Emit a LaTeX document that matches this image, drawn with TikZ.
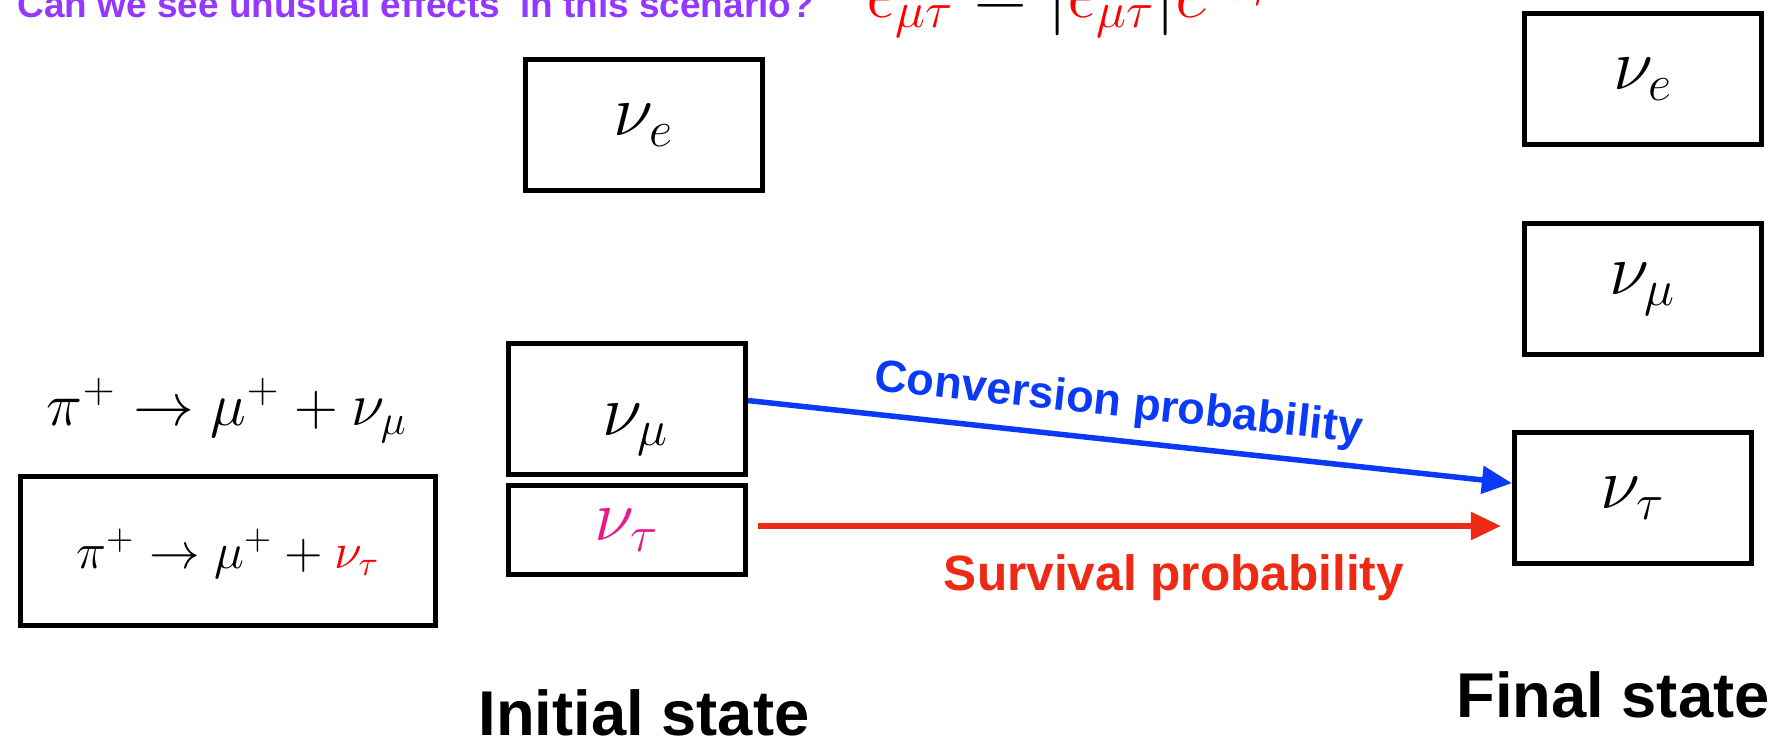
\documentclass[tikz,border=0pt]{standalone}
\usepackage{fontspec}
\setsansfont{Liberation Sans}
\usetikzlibrary{arrows.meta}
\definecolor{AskViolet}{HTML}{9437FF}
\definecolor{ConvBlue}{HTML}{0A3AF5}
\definecolor{SurvRed}{HTML}{EE2A14}
\definecolor{TauPink}{HTML}{E8198B}
\definecolor{PhaseRed}{HTML}{FF0000}

\begin{document}
\begin{tikzpicture}[x=0.01cm,y=-0.01cm,>={Triangle[length=0.3cm,width=0.27cm]},
  flavbox/.style={draw,line width=0.05cm,minimum width=2.37cm,minimum height=1.31cm,inner sep=0pt,font=\fontsize{20.5}{24}\selectfont},
  statelabel/.style={anchor=base,font=\sffamily\bfseries\fontsize{18}{22}\selectfont},
  probline/.style={line width=0.055cm,->}]
\path[use as bounding box] (0,0) rectangle (1778,742); \clip (0,0) rectangle (1778,742);
\node[anchor=base west,inner sep=0pt,text=AskViolet,font=\sffamily\bfseries\fontsize{10.5}{12}\selectfont] (ask) at (17,17){Can we see unusual effects~ in this scenario?};
\node[anchor=base west,inner sep=0pt,font=\fontsize{20}{24}\selectfont] (phase) at (866,17){$\textcolor{PhaseRed}{\epsilon_{\mu\tau}}=|\textcolor{PhaseRed}{\epsilon_{\mu\tau}}|\textcolor{PhaseRed}{e^{i\phi_{\mu\tau}}}$};
\node[flavbox] (nuei) at (644,125){$\nu_e$};
\node[flavbox] (numui) at (627,409){\raisebox{-.26cm}[0pt][0pt]{\hspace{.18cm}$\nu_\mu$}};
\node[flavbox,minimum height=0.88cm,text=TauPink] (nutaui) at (627,530){$\nu_\tau$};
\node[anchor=base,font=\fontsize{17.5}{21}\selectfont] (decay) at (227,425){$\pi^+\to\mu^++\nu_\mu$};
\node[flavbox,minimum width=4.15cm,minimum height=1.49cm,font=\fontsize{13.8}{16}\selectfont] (pibox) at (228,551){\raisebox{-.17cm}[0pt][0pt]{$\pi^+\to\mu^++\textcolor{PhaseRed}{\nu_\tau}$}};
\node[flavbox] (nuef) at (1643,79){$\nu_e$};
\node[flavbox] (numuf) at (1643,289){$\nu_\mu$};
\node[flavbox] (nutauf) at (1633,498){$\nu_\tau$};
\draw[probline,ConvBlue] (numui.4) -- (nutauf.173) node[pos=.48,sloped,above,text=ConvBlue,font=\sffamily\bfseries\fontsize{12.8}{15}\selectfont]{Conversion probability};
\draw[probline,SurvRed,shorten <=0.1cm,shorten >=0.11cm,transform canvas={yshift=0.04cm}] (nutaui.east) -- (nutaui.east -| nutauf.west);
\node[anchor=base,text=SurvRed,font=\sffamily\bfseries\fontsize{14.1}{17}\selectfont] (surv) at (1174,590){Survival probability};
\node[statelabel] (init) at (644,735){Initial state};
\node[statelabel] (final) at (1613,717){Final state};
\end{tikzpicture}
\end{document}
